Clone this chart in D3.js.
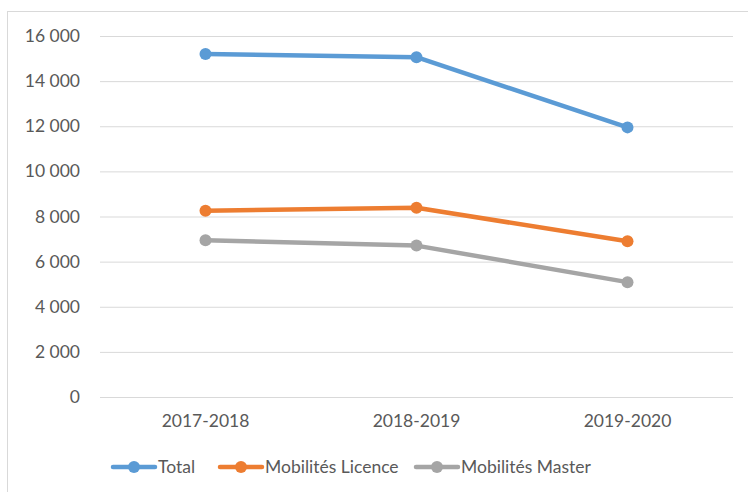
<!DOCTYPE html>
<html><head><meta charset="utf-8">
<script src="https://cdn.jsdelivr.net/npm/d3@7"></script>
<style>body{margin:0;background:#fff}svg{display:block}</style>
</head><body>
<svg id="c" width="748" height="492"></svg>
<script>
const categories = ["2017-2018", "2018-2019", "2019-2020"];
const seriesNames = ["Total", "Mobilités Licence", "Mobilités Master"];
const totalValues = [15200, 15060, 11950];
const licenceValues = [8260, 8390, 6900];
const masterValues = [6950, 6710, 5090];
const yTicks = [0, 2000, 4000, 6000, 8000, 10000, 12000, 14000, 16000];
const colors = ["#5B9BD5", "#ED7D31", "#A5A5A5"];

const series = [totalValues, licenceValues, masterValues].map((v, i) => ({name: seriesNames[i], values: v, color: colors[i]}));

const svg = d3.select("#c");
const font = "Lato, sans-serif";
const fs = "17.5px ";
svg.append("rect").attr("x", 7.5).attr("y", 11.5).attr("width", 760).attr("height", 500)
  .attr("fill", "#fff").attr("stroke", "#D9D9D9");

const x = d3.scaleBand().domain(categories).range([100, 733]);
const y = d3.scaleLinear().domain([0, 16000]).range([397, 36]);
const fmt = v => d3.format(",")(v).replace(/,/g, " ");

const ya = svg.append("g").attr("transform", "translate(100,0)")
  .call(d3.axisLeft(y).tickValues(yTicks).tickSize(-633).tickFormat(fmt).tickPadding(20));
ya.select(".domain").remove();
ya.selectAll(".tick line").attr("stroke", "#D9D9D9").attr("stroke-width", 1);
ya.selectAll(".tick text").attr("fill", "#595959").style("font", fs + font);

const xa = svg.append("g").attr("transform", "translate(0,397)")
  .call(d3.axisBottom(x).tickSize(0).tickPadding(18));
xa.select(".domain").remove();
xa.selectAll(".tick text").attr("fill", "#595959").style("font", fs + font);

const line = d3.line().x((d, i) => x(categories[i]) + x.bandwidth() / 2).y(d => y(d));
series.forEach(s => {
  svg.append("path").datum(s.values).attr("d", line).attr("fill", "none")
    .attr("stroke", s.color).attr("stroke-width", 4.5).attr("stroke-linejoin", "round").attr("stroke-linecap", "round");
  svg.selectAll(null).data(s.values).enter().append("circle")
    .attr("cx", (d, i) => x(categories[i]) + x.bandwidth() / 2).attr("cy", d => y(d))
    .attr("r", 6).attr("fill", s.color);
});

const legendX = [113, 220, 416];
const lg = svg.append("g");
series.forEach((s, i) => {
  const g = lg.append("g").attr("transform", `translate(${legendX[i]},467)`);
  g.append("line").attr("x1", 0).attr("x2", 42).attr("stroke", s.color).attr("stroke-width", 4.5).attr("stroke-linecap", "round");
  g.append("circle").attr("cx", 21).attr("r", 6).attr("fill", s.color);
  g.append("text").attr("x", 45).attr("dy", "0.35em").attr("fill", "#595959").style("font", fs + font).text(s.name);
});
</script>
</body></html>
